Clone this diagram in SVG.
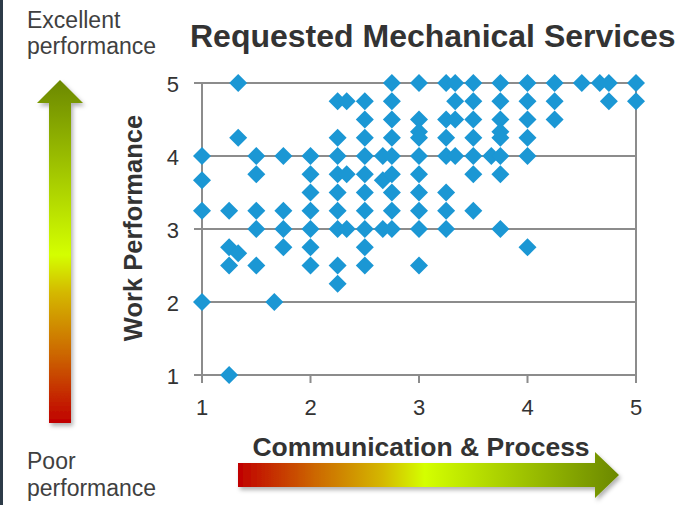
<svg xmlns="http://www.w3.org/2000/svg" xmlns:xlink="http://www.w3.org/1999/xlink" width="693" height="505" viewBox="0 0 693 505">
<style>
.lbl{font-family:"Liberation Sans",Arial,sans-serif;fill:#404040}
.num{font-family:"Liberation Sans",Arial,sans-serif;font-size:22px;fill:#333}
.bold{font-family:"Liberation Sans",Arial,sans-serif;font-weight:bold;fill:#333}
.grid{stroke:#8c8c8c;stroke-width:2;fill:none}
.pt{fill:#1b97d4}
</style>
<defs>
<path id="d" class="pt" d="M0,-9L9,0L0,9L-9,0Z"/>
<linearGradient id="gh" gradientUnits="userSpaceOnUse" x1="238" y1="0" x2="619" y2="0">
<stop offset="0" stop-color="#c00000"/>
<stop offset="0.2" stop-color="#cc6600"/>
<stop offset="0.38" stop-color="#d4b800"/>
<stop offset="0.49" stop-color="#d4ff00"/>
<stop offset="1" stop-color="#6b8800"/>
</linearGradient>
<linearGradient id="gv" gradientUnits="userSpaceOnUse" x1="0" y1="423" x2="0" y2="80">
<stop offset="0" stop-color="#c00000"/>
<stop offset="0.2" stop-color="#cc6600"/>
<stop offset="0.38" stop-color="#d4b800"/>
<stop offset="0.49" stop-color="#d4ff00"/>
<stop offset="1" stop-color="#6b8800"/>
</linearGradient>
<filter id="sh" x="-20%" y="-20%" width="150%" height="150%">
<feDropShadow dx="2" dy="3" stdDeviation="2" flood-color="#000" flood-opacity="0.3"/>
</filter>
</defs>
<rect width="693" height="505" fill="#fff"/>
<rect x="0" y="0" width="3" height="505" fill="#2d3b48"/>

<g id="arrows">
<path id="arrow-v" d="M60,80L83,103L71,103L71,423L49,423L49,103L37,103Z" fill="url(#gv)" filter="url(#sh)"/>
<path id="arrow-h" d="M238,463L595,463L595,452L619,475L595,498L595,487L238,487Z" fill="url(#gh)" filter="url(#sh)"/>
</g>

<g id="texts">
<text class="bold" x="190" y="47" font-size="32">Requested Mechanical Services</text>
<text class="lbl" x="27" y="28" font-size="23">Excellent</text>
<text class="lbl" x="27" y="54" font-size="23">performance</text>
<text class="lbl" x="27" y="469" font-size="23">Poor</text>
<text class="lbl" x="27" y="496" font-size="23">performance</text>
<text class="bold" transform="translate(142,228) rotate(-90)" text-anchor="middle" font-size="25.5">Work Performance</text>
<text class="bold" x="421" y="456" text-anchor="middle" font-size="26.5">Communication &amp; Process</text>
</g>

<g id="axes">
<path class="grid" d="M194,83H636M194,156H636M194,229H636M194,302H636M194,375H636M202,83V383M636,83V383M310.5,375V383M419,375V383M527.5,375V383"/>
<g class="num" text-anchor="end">
<text x="179" y="92">5</text>
<text x="179" y="165">4</text>
<text x="179" y="238">3</text>
<text x="179" y="311">2</text>
<text x="179" y="384">1</text>
</g>
<g class="num" text-anchor="middle">
<text x="202" y="415">1</text>
<text x="310.5" y="415">2</text>
<text x="419" y="415">3</text>
<text x="527.5" y="415">4</text>
<text x="636" y="415">5</text>
</g>
</g>

<g id="points">
<use href="#d" x="202" y="156"/><use href="#d" x="202" y="180.3"/><use href="#d" x="202" y="210.8"/><use href="#d" x="202" y="302"/>
<use href="#d" x="229.1" y="210.8"/><use href="#d" x="229.1" y="247.3"/><use href="#d" x="229.1" y="265.5"/><use href="#d" x="229.1" y="375"/>
<use href="#d" x="238.2" y="83"/><use href="#d" x="238.2" y="137.8"/><use href="#d" x="238.2" y="253.3"/>
<use href="#d" x="256.3" y="156"/><use href="#d" x="256.3" y="174.3"/><use href="#d" x="256.3" y="210.8"/><use href="#d" x="256.3" y="229"/><use href="#d" x="256.3" y="265.5"/>
<use href="#d" x="274.3" y="302"/>
<use href="#d" x="283.4" y="156"/><use href="#d" x="283.4" y="210.8"/><use href="#d" x="283.4" y="229"/><use href="#d" x="283.4" y="247.3"/>
<use href="#d" x="310.5" y="156"/><use href="#d" x="310.5" y="174.3"/><use href="#d" x="310.5" y="192.5"/><use href="#d" x="310.5" y="210.8"/><use href="#d" x="310.5" y="229"/><use href="#d" x="310.5" y="247.3"/><use href="#d" x="310.5" y="265.5"/>
<use href="#d" x="337.6" y="101.3"/><use href="#d" x="337.6" y="137.8"/><use href="#d" x="337.6" y="156"/><use href="#d" x="337.6" y="174.3"/><use href="#d" x="337.6" y="192.5"/><use href="#d" x="337.6" y="210.8"/><use href="#d" x="337.6" y="229"/><use href="#d" x="337.6" y="265.5"/><use href="#d" x="337.6" y="283.8"/>
<use href="#d" x="346.7" y="101.3"/><use href="#d" x="346.7" y="174.3"/><use href="#d" x="346.7" y="229"/>
<use href="#d" x="364.8" y="101.3"/><use href="#d" x="364.8" y="119.5"/><use href="#d" x="364.8" y="137.8"/><use href="#d" x="364.8" y="156"/><use href="#d" x="364.8" y="174.3"/><use href="#d" x="364.8" y="192.5"/><use href="#d" x="364.8" y="210.8"/><use href="#d" x="364.8" y="229"/><use href="#d" x="364.8" y="247.3"/><use href="#d" x="364.8" y="265.5"/>
<use href="#d" x="382.8" y="156"/><use href="#d" x="382.8" y="180.3"/><use href="#d" x="382.8" y="229"/>
<use href="#d" x="391.9" y="83"/><use href="#d" x="391.9" y="101.3"/><use href="#d" x="391.9" y="119.5"/><use href="#d" x="391.9" y="137.8"/><use href="#d" x="391.9" y="156"/><use href="#d" x="391.9" y="174.3"/><use href="#d" x="391.9" y="192.5"/><use href="#d" x="391.9" y="210.8"/><use href="#d" x="391.9" y="229"/>
<use href="#d" x="419" y="83"/><use href="#d" x="419" y="119.5"/><use href="#d" x="419" y="131.7"/><use href="#d" x="419" y="137.8"/><use href="#d" x="419" y="156"/><use href="#d" x="419" y="174.3"/><use href="#d" x="419" y="192.5"/><use href="#d" x="419" y="210.8"/><use href="#d" x="419" y="229"/><use href="#d" x="419" y="265.5"/>
<use href="#d" x="446.1" y="83"/><use href="#d" x="446.1" y="119.5"/><use href="#d" x="446.1" y="137.8"/><use href="#d" x="446.1" y="156"/><use href="#d" x="446.1" y="192.5"/><use href="#d" x="446.1" y="210.8"/><use href="#d" x="446.1" y="229"/>
<use href="#d" x="455.2" y="83"/><use href="#d" x="455.2" y="101.3"/><use href="#d" x="455.2" y="119.5"/><use href="#d" x="455.2" y="156"/>
<use href="#d" x="473.3" y="83"/><use href="#d" x="473.3" y="101.3"/><use href="#d" x="473.3" y="119.5"/><use href="#d" x="473.3" y="137.8"/><use href="#d" x="473.3" y="156"/><use href="#d" x="473.3" y="174.3"/><use href="#d" x="473.3" y="210.8"/>
<use href="#d" x="491.3" y="156"/>
<use href="#d" x="500.4" y="83"/><use href="#d" x="500.4" y="101.3"/><use href="#d" x="500.4" y="119.5"/><use href="#d" x="500.4" y="131.7"/><use href="#d" x="500.4" y="137.8"/><use href="#d" x="500.4" y="156"/><use href="#d" x="500.4" y="174.3"/><use href="#d" x="500.4" y="229"/>
<use href="#d" x="527.5" y="83"/><use href="#d" x="527.5" y="101.3"/><use href="#d" x="527.5" y="119.5"/><use href="#d" x="527.5" y="137.8"/><use href="#d" x="527.5" y="156"/><use href="#d" x="527.5" y="247.3"/>
<use href="#d" x="554.6" y="83"/><use href="#d" x="554.6" y="101.3"/><use href="#d" x="554.6" y="119.5"/>
<use href="#d" x="581.8" y="83"/>
<use href="#d" x="599.8" y="83"/>
<use href="#d" x="608.9" y="83"/><use href="#d" x="608.9" y="101.3"/>
<use href="#d" x="636" y="83"/><use href="#d" x="636" y="101.3"/>
</g>
</svg>
